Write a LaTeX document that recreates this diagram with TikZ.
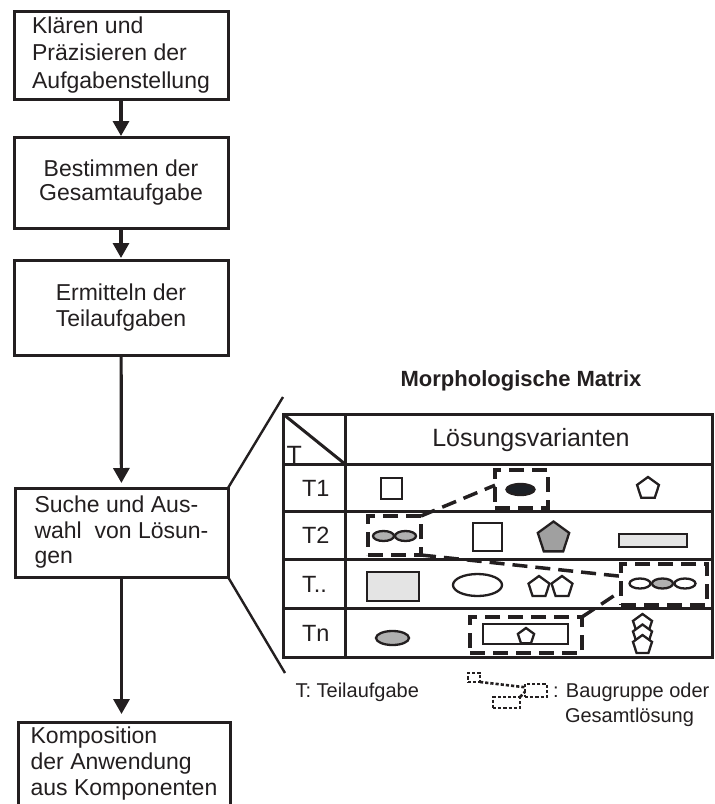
\documentclass[tikz,border=0pt]{standalone}
\usepackage{fontspec}
\setmainfont{Liberation Sans}
\usetikzlibrary{shapes.geometric,arrows.meta,calc}
\definecolor{ink}{HTML}{231F20}
\definecolor{lightfill}{HTML}{E4E4E4}
\definecolor{midfill}{HTML}{B0B0B0}
\definecolor{pentfill}{HTML}{A0A0A0}
\definecolor{darkfill}{HTML}{1C2026}
\begin{document}
\begin{tikzpicture}[x=1pt,y=-1pt,
  every node/.style={inner sep=0pt, outer sep=0pt, text=ink},
  stepbox/.style={draw=ink, line width=3pt, fill=white, minimum width=214pt},
  flow/.style={draw=ink, line width=3.2pt, -{Triangle[width=16pt,length=15pt]}},
  grid/.style={draw=ink, line width=3pt},
  zoomline/.style={draw=ink, line width=2.4pt},
  shp/.style={draw=ink, line width=2.3pt},
  pent/.style={shp, regular polygon, regular polygon sides=5},
  oval/.style={shp, ellipse},
  group/.style={draw=ink, line width=3.5pt, dash pattern=on 15pt off 8pt},
  minigroup/.style={draw=ink, line width=2.6pt, dash pattern=on 3.2pt off 2pt},
  lbl/.style={font=\fontsize{23.5}{27}\selectfont},
  legend/.style={font=\fontsize{20}{25}\selectfont, anchor=base west}
]
\useasboundingbox (0,0) rectangle (715,804);
\clip (0,0) rectangle (715,804);

% process steps
\node[stepbox, minimum height=88pt, align=left, font=\fontsize{23}{27.5}\selectfont]
  (b1) at (121,55) {Klären und\\Präzisieren der\\Aufgabenstellung};
\node[stepbox, minimum height=91pt, align=center, font=\fontsize{23}{23.5}\selectfont]
  (b2) at (121,182.5) {Bestimmen der\\Gesamtaufgabe};
\node[stepbox, minimum height=95pt, align=center, font=\fontsize{23}{26}\selectfont]
  (b3) at (121,307.5) {Ermitteln der\\Teilaufgaben};
\node[stepbox, minimum width=213pt, minimum height=89pt, align=left, font=\fontsize{23}{25.5}\selectfont]
  (b4) at (121.5,532.5) {Suche und Aus-\\wahl\ \ von Lösun-\\gen};
\node[stepbox, minimum width=212pt, minimum height=84pt, align=left, font=\fontsize{23}{26}\selectfont]
  (b5) at (124,764) {Komposition\\der Anwendung\\aus Komponenten};

\draw[flow, shorten >=1pt] (b1) -- (b2);
\draw[flow, shorten >=2pt] (b2) -- (b3);
\draw[flow, shorten >=5pt] (b3) -- (b4);
\draw[flow, shorten >=8pt] (b4.south) -- (b4.south |- b5.north);

% magnification lines towards the matrix
\coordinate (zt) at (283,397);
\coordinate (zb) at (285,673);
\draw[zoomline] (b4.north east) -- (zt);
\draw[zoomline] (b4.south east) -- (zb);

% morphological matrix
\node[font=\bfseries\fontsize{22}{26}\selectfont] (title) at (521,381) {Morphologische Matrix};
\draw[grid] (283,414) rectangle (712.5,657);
\draw[grid] (345,414) -- (345,657);
\draw[grid] (283,464) -- (712.5,464);
\draw[grid] (283,511) -- (712.5,511);
\draw[grid] (283,559) -- (712.5,559);
\draw[grid] (283,608) -- (712.5,608);
\draw[grid] (283,414) -- (345,464);
\node[font=\fontsize{25}{30}\selectfont] (head) at (531,440) {Lösungsvarianten};
\node[font=\fontsize{25}{30}\selectfont, anchor=base west] (tcol) at (286.5,463) {T};
\node[lbl, anchor=west] (r1) at (302,488) {T1};
\node[lbl, anchor=west] (r2) at (302,535.5) {T2};
\node[lbl, anchor=west] (r3) at (302,584) {T..};
\node[lbl, anchor=west] (r4) at (302,633) {Tn};

% row T1
\node[shp, minimum width=21pt, minimum height=21pt] (s11) at (391.5,488.5) {};
\node[oval, fill=darkfill, minimum width=28pt, minimum height=11pt] (s12) at (520.5,489.5) {};
\node[pent, fill=white, minimum size=23pt] (s13) at (648,488.5) {};

% row T2
\node[oval, fill=midfill, minimum width=21pt, minimum height=10pt] (s21a) at (383.5,536) {};
\node[oval, fill=midfill, minimum width=21pt, minimum height=10pt] (s21b) at (405.5,536) {};
\node[shp, minimum width=29pt, minimum height=28pt] (s22) at (487.5,537) {};
\node[pent, fill=pentfill, minimum size=33pt] (s23) at (553.5,538) {};
\node[shp, fill=lightfill, minimum width=68pt, minimum height=13pt] (s24) at (653,540.5) {};

% row T..
\node[shp, fill=lightfill, minimum width=52pt, minimum height=29pt] (s31) at (393,586.5) {};
\node[oval, fill=white, minimum width=49pt, minimum height=22pt] (s32) at (477.5,585) {};
\node[pent, fill=white, minimum size=22pt] (s33a) at (539,587) {};
\node[pent, fill=white, minimum size=22pt] (s33b) at (562,587) {};
\node[oval, fill=white, minimum width=21pt, minimum height=10pt] (s34a) at (640,583.5) {};
\node[oval, fill=midfill, minimum width=21pt, minimum height=10pt] (s34b) at (662.5,583.5) {};
\node[oval, fill=white, minimum width=21pt, minimum height=10pt] (s34c) at (685,583.5) {};

% row Tn
\node[oval, fill=midfill, minimum width=33pt, minimum height=14pt] (s41) at (392.5,638) {};
\node[shp, fill=white, minimum width=85pt, minimum height=20pt] (s42) at (525.5,634) {};
\node[pent, fill=white, minimum size=17pt] (s43) at (526,636.5) {};
\node[pent, fill=white, minimum size=20pt] (s44a) at (642.5,624) {};
\node[pent, fill=white, minimum size=20pt] (s44b) at (642.5,634.5) {};
\node[pent, fill=white, minimum size=20pt] (s44c) at (642.5,645) {};

% assemblies picked from the matrix
\node[group, minimum width=53pt, minimum height=38pt] (g1) at (521.5,489) {};
\node[group, minimum width=53pt, minimum height=39pt] (g2) at (394.5,535.5) {};
\node[group, minimum width=86pt, minimum height=41pt] (g3) at (664,584.5) {};
\node[group, minimum width=112pt, minimum height=36pt] (g4) at (526,635) {};
\draw[group] (g2.north east) -- ($(g1.north west)!0.4!(g1.south west)$);
\draw[group] (g2.south east) -- ($(g3.north west)!0.3!(g3.south west)$);
\draw[group] (g4.north east) -- ($(g3.north west)!0.66!(g3.south west)$);

% legend
\node[legend] (lg1) at (295.5,697) {T: Teilaufgabe};
\node[minigroup, minimum width=12pt, minimum height=9pt] (i1) at (474,677.5) {};
\node[minigroup, minimum width=22pt, minimum height=13pt] (i2) at (536,690.5) {};
\node[minigroup, minimum width=27pt, minimum height=11pt] (i3) at (506.5,702.5) {};
\draw[minigroup] (i1.south east) -- ($(i2.north west)!0.25!(i2.south west)$);
\draw[minigroup] (i3.north east) -- ($(i2.north west)!0.6!(i2.south west)$);
\node[legend] (lg2) at (553,697) {: Baugruppe oder};
\node[legend] (lg3) at (565,722) {Gesamtlösung};
\end{tikzpicture}
\end{document}
